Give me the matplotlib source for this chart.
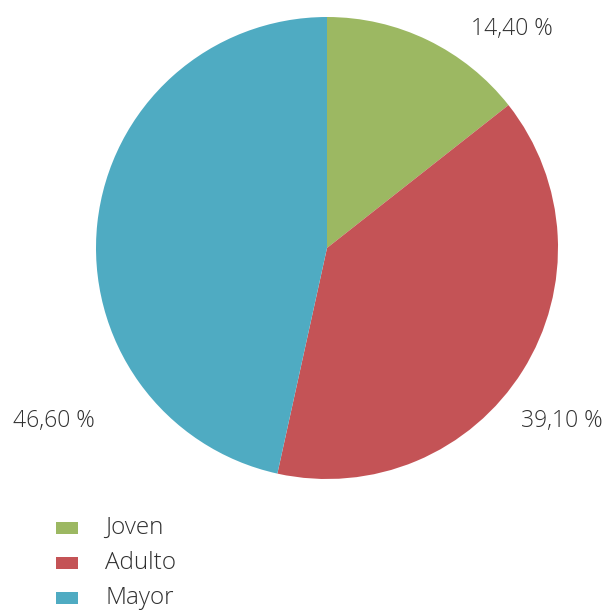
import matplotlib
matplotlib.use("Agg")
import matplotlib.pyplot as plt
from matplotlib.patches import Rectangle

categories = ["Joven", "Adulto", "Mayor"]
values = [14.40, 39.10, 46.60]
colors = ["#9CB862", "#C45356", "#4FABC2"]
value_labels = ["14,40 %", "39,10 %", "46,60 %"]

W, H = 604, 612
fig = plt.figure(figsize=(W / 100, H / 100), dpi=100)

# pie axes: centre (327, 248), radius 231 px
cx, cy, r = 327, 248, 231
ax = fig.add_axes([(cx - r) / W, (H - cy - r) / H, 2 * r / W, 2 * r / H])
ax.pie(values, colors=colors, startangle=90, counterclock=False,
       radius=1, wedgeprops=dict(linewidth=0))
ax.set_xlim(-1, 1)
ax.set_ylim(-1, 1)
ax.set_aspect("equal")
ax.axis("off")

font = dict(family="Open Sans", fontweight="light", color="#303030")

# value labels placed outside the wedges
label_pos = [(512, 29), (562, 421), (54, 421)]
for txt, (x, y) in zip(value_labels, label_pos):
    fig.text(x / W, 1 - y / H, txt, ha="center", va="center", fontsize=16.5, **font)

# legend
leg_y = [528, 563, 598]
for cat, col, y in zip(categories, colors, leg_y):
    fig.patches.append(Rectangle(((56) / W, 1 - (y + 6) / H), 22 / W, 12 / H,
                                 transform=fig.transFigure, facecolor=col,
                                 edgecolor="none"))
    fig.text(105 / W, 1 - y / H, cat, ha="left", va="center", fontsize=17.5, **font)

fig.savefig("out.png", dpi=100)
